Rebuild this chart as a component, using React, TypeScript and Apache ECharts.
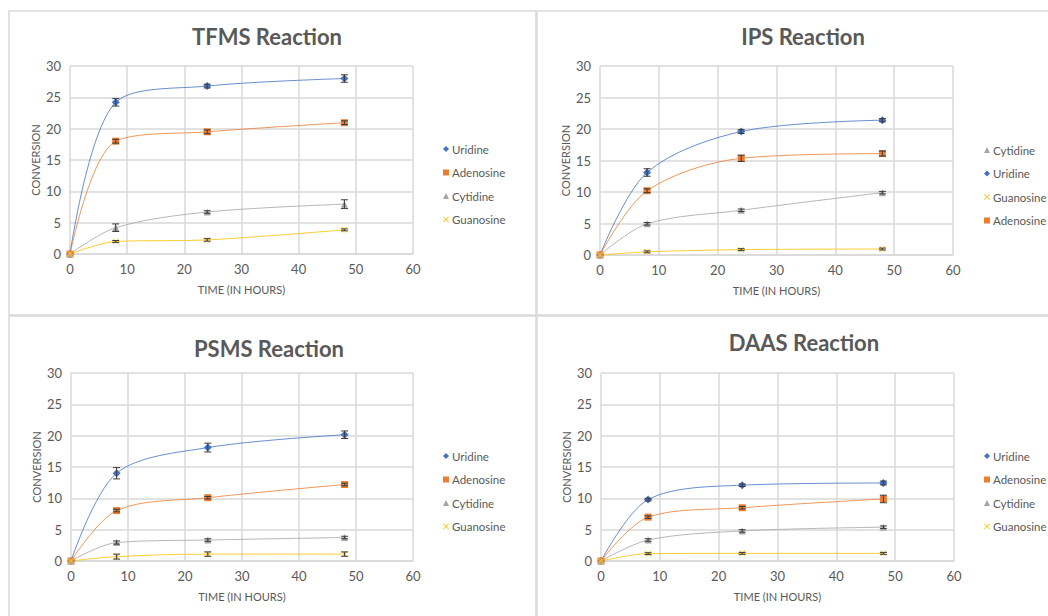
import React, { useEffect, useRef } from "react";
import * as echarts from "echarts";

// ---- data ----
const hours = [0, 8, 24, 48];
const xTicks = [0, 10, 20, 30, 40, 50, 60];
const yTicks = [0, 5, 10, 15, 20, 25, 30];

// TFMS
const tfmsUridine = [0, 24.2, 26.8, 28.0];
const tfmsUridineErr = [0, 0.6, 0.3, 0.6];
const tfmsAdenosine = [0, 18.0, 19.5, 20.95];
const tfmsAdenosineErr = [0, 0.3, 0.3, 0.3];
const tfmsCytidine = [0, 4.2, 6.7, 7.95];
const tfmsCytidineErr = [0, 0.6, 0.2, 0.7];
const tfmsGuanosine = [0, 2.0, 2.25, 3.85];
const tfmsGuanosineErr = [0, 0.15, 0.2, 0.15];

// IPS
const ipsUridine = [0, 13.1, 19.6, 21.4];
const ipsUridineErr = [0, 0.6, 0.3, 0.25];
const ipsAdenosine = [0, 10.2, 15.35, 16.1];
const ipsAdenosineErr = [0, 0.3, 0.5, 0.4];
const ipsCytidine = [0, 4.95, 7.1, 9.9];
const ipsCytidineErr = [0, 0.2, 0.2, 0.2];
const ipsGuanosine = [0, 0.5, 0.85, 0.95];
const ipsGuanosineErr = [0, 0.15, 0.15, 0.15];

// PSMS
const psmsUridine = [0, 14.0, 18.1, 20.15];
const psmsUridineErr = [0, 0.9, 0.7, 0.6];
const psmsAdenosine = [0, 8.05, 10.1, 12.2];
const psmsAdenosineErr = [0, 0.2, 0.2, 0.2];
const psmsCytidine = [0, 2.95, 3.35, 3.75];
const psmsCytidineErr = [0, 0.25, 0.2, 0.2];
const psmsGuanosine = [0, 0.7, 1.1, 1.1];
const psmsGuanosineErr = [0, 0.4, 0.35, 0.35];

// DAAS
const daasUridine = [0, 9.8, 12.1, 12.45];
const daasUridineErr = [0, 0.2, 0.2, 0.3];
const daasAdenosine = [0, 7.0, 8.5, 9.9];
const daasAdenosineErr = [0, 0.2, 0.2, 0.6];
const daasCytidine = [0, 3.35, 4.8, 5.4];
const daasCytidineErr = [0, 0.2, 0.2, 0.2];
const daasGuanosine = [0, 1.17, 1.22, 1.22];
const daasGuanosineErr = [0, 0.15, 0.15, 0.15];

const panelTitles = ["TFMS Reaction", "IPS Reaction", "PSMS Reaction", "DAAS Reaction"];
const legendOrders = [
  ["Uridine", "Adenosine", "Cytidine", "Guanosine"],
  ["Cytidine", "Uridine", "Guanosine", "Adenosine"],
  ["Uridine", "Adenosine", "Cytidine", "Guanosine"],
  ["Uridine", "Adenosine", "Cytidine", "Guanosine"],
];

// ---- styles ----
const FONT = "Lato, 'Open Sans', sans-serif";
const TXT = "#595959";
const GRIDC = "#d9d9d9";
const CROSS = "path://M1,0L5,4L9,0L10,1L6,5L10,9L9,10L5,6L1,10L0,9L4,5L0,1Z";
const styles: Record<string, { color: string; symbol: string; size: number }> = {
  Uridine: { color: "#4472C4", symbol: "diamond", size: 8 },
  Adenosine: { color: "#ED7D31", symbol: "rect", size: 7 },
  Cytidine: { color: "#A5A5A5", symbol: "triangle", size: 7 },
  Guanosine: { color: "#FFC000", symbol: CROSS, size: 6 },
};

const panelData: Record<string, { v: number[]; e: number[] }>[] = [
  {
    Uridine: { v: tfmsUridine, e: tfmsUridineErr },
    Adenosine: { v: tfmsAdenosine, e: tfmsAdenosineErr },
    Cytidine: { v: tfmsCytidine, e: tfmsCytidineErr },
    Guanosine: { v: tfmsGuanosine, e: tfmsGuanosineErr },
  },
  {
    Uridine: { v: ipsUridine, e: ipsUridineErr },
    Adenosine: { v: ipsAdenosine, e: ipsAdenosineErr },
    Cytidine: { v: ipsCytidine, e: ipsCytidineErr },
    Guanosine: { v: ipsGuanosine, e: ipsGuanosineErr },
  },
  {
    Uridine: { v: psmsUridine, e: psmsUridineErr },
    Adenosine: { v: psmsAdenosine, e: psmsAdenosineErr },
    Cytidine: { v: psmsCytidine, e: psmsCytidineErr },
    Guanosine: { v: psmsGuanosine, e: psmsGuanosineErr },
  },
  {
    Uridine: { v: daasUridine, e: daasUridineErr },
    Adenosine: { v: daasAdenosine, e: daasAdenosineErr },
    Cytidine: { v: daasCytidine, e: daasCytidineErr },
    Guanosine: { v: daasGuanosine, e: daasGuanosineErr },
  },
];

// layout
const grids = [
  { left: 70, top: 66, width: 343, height: 188 },
  { left: 600, top: 66, width: 353, height: 189 },
  { left: 71, top: 373, width: 342, height: 188 },
  { left: 601, top: 373, width: 353, height: 188 },
];
const titlePos = [
  { x: 262, y: 20 },
  { x: 798, y: 20 },
  { x: 264, y: 332 },
  { x: 799, y: 326 },
];
const legendPos = [
  { left: 438, top: 138 },
  { left: 979, top: 139 },
  { left: 438, top: 445 },
  { left: 979, top: 445 },
];

function buildOption() {
  const series: any[] = [];
  panelData.forEach((pd, gi) => {
    const names = ["Uridine", "Adenosine", "Cytidine", "Guanosine"];
    names.forEach((n) => {
      const st = styles[n];
      series.push({
        type: "line",
        name: n,
        xAxisIndex: gi,
        yAxisIndex: gi,
        data: hours.map((h, i) => [h, pd[n].v[i]]),
        smooth: 0.32,
        symbol: st.symbol,
        symbolSize: st.size,
        showAllSymbol: true,
        lineStyle: { color: st.color, width: 1, opacity: 0.8 },
        itemStyle: { color: st.color, opacity: 1 },
        z: 3,
      });
    });
    names.forEach((n) => {
      const errData = hours
        .map((h, i) => [h, pd[n].v[i] - pd[n].e[i], pd[n].v[i] + pd[n].e[i], pd[n].e[i]])
        .filter((d) => d[3] > 0);
      series.push({
        type: "custom",
        name: n + " err",
        xAxisIndex: gi,
        yAxisIndex: gi,
        data: errData,
        encode: { x: 0, y: [1, 2] },
        z: 5,
        silent: true,
        renderItem: (params: any, api: any) => {
          const x = api.value(0);
          const p1 = api.coord([x, api.value(1)]);
          const p2 = api.coord([x, api.value(2)]);
          const w = 3.5;
          const style = { stroke: "#3a3a3a", lineWidth: 1 };
          return {
            type: "group",
            children: [
              { type: "line", shape: { x1: p1[0], y1: p1[1], x2: p2[0], y2: p2[1] }, style },
              { type: "line", shape: { x1: p1[0] - w, y1: p1[1], x2: p1[0] + w, y2: p1[1] }, style },
              { type: "line", shape: { x1: p2[0] - w, y1: p2[1], x2: p2[0] + w, y2: p2[1] }, style },
            ],
          };
        },
      });
    });
  });

  const xAxis = grids.map((_, gi) => ({
    type: "value",
    gridIndex: gi,
    min: xTicks[0],
    max: xTicks[xTicks.length - 1],
    interval: xTicks[1] - xTicks[0],
    name: "TIME (IN HOURS)",
    nameLocation: "middle",
    nameGap: 30,
    nameTextStyle: { color: TXT, fontSize: 11, fontFamily: FONT },
    axisLine: { show: true, lineStyle: { color: GRIDC, width: 1.5 } },
    axisTick: { show: false },
    axisLabel: { color: TXT, fontSize: 13, fontFamily: FONT, margin: 8 },
    splitLine: { show: true, lineStyle: { color: GRIDC, width: 1.5 } },
  }));
  const yAxis = grids.map((_, gi) => ({
    type: "value",
    gridIndex: gi,
    min: yTicks[0],
    max: yTicks[yTicks.length - 1],
    interval: yTicks[1] - yTicks[0],
    name: "CONVERSION",
    nameLocation: "middle",
    nameGap: 29,
    nameTextStyle: { color: TXT, fontSize: 11, fontFamily: FONT },
    axisLine: { show: false },
    axisTick: { show: false },
    axisLabel: { color: TXT, fontSize: 13, fontFamily: FONT, margin: 9 },
    splitLine: { show: true, lineStyle: { color: GRIDC, width: 1.5 } },
  }));

  const title = panelTitles.map((t, i) => ({
    text: t,
    left: titlePos[i].x,
    top: titlePos[i].y,
    textAlign: "center",
    textStyle: { color: TXT, fontSize: 22, fontWeight: "bold", fontFamily: FONT },
  }));

  const legend = legendOrders.map((order, i) => ({
    orient: "vertical",
    left: legendPos[i].left,
    top: legendPos[i].top,
    itemGap: 11.5,
    itemWidth: 6,
    itemHeight: 6,
    itemStyle: { borderWidth: 0 },
    textStyle: { color: TXT, fontSize: 11.5, fontFamily: FONT, padding: [0, 0, 0, -2] },
    selectedMode: false,
    data: order.map((n) => ({ name: n, icon: styles[n].symbol })),
  }));

  const border = { stroke: "#d9d9d9", lineWidth: 1.5, fill: "#ffffff" };
  const graphic = [
    { type: "rect", z: -10, shape: { x: 9, y: 11, width: 527, height: 304 }, style: border, silent: true },
    { type: "rect", z: -10, shape: { x: 537, y: 11, width: 530, height: 304 }, style: border, silent: true },
    { type: "rect", z: -10, shape: { x: 9, y: 316, width: 527, height: 320 }, style: border, silent: true },
    { type: "rect", z: -10, shape: { x: 537, y: 316, width: 530, height: 320 }, style: border, silent: true },
  ];

  return {
    animation: false,
    backgroundColor: "#ffffff",
    title,
    legend,
    grid: grids,
    xAxis,
    yAxis,
    series,
    graphic,
  };
}

export default function App() {
  const ref = useRef<HTMLDivElement>(null);
  useEffect(() => {
    if (!ref.current) return;
    const chart = echarts.init(ref.current, null, { renderer: "svg" });
    chart.setOption(buildOption() as any);
    return () => chart.dispose();
  }, []);
  return (
    <div
      ref={ref}
      style={{ position: "fixed", left: 0, top: 0, width: 1048, height: 616, background: "#fff" }}
    />
  );
}
